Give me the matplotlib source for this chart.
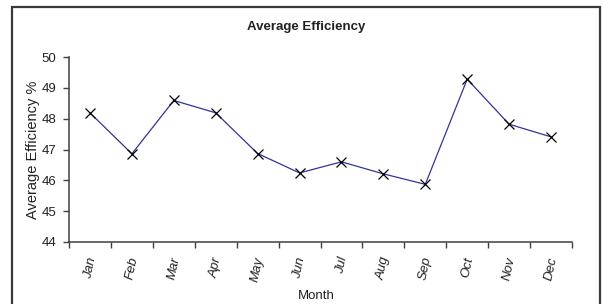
import matplotlib
matplotlib.use("Agg")
import matplotlib.pyplot as plt
from matplotlib.patches import Rectangle
import numpy as np

months = ["Jan", "Feb", "Mar", "Apr", "May", "Jun", "Jul", "Aug", "Sep", "Oct", "Nov", "Dec"]
efficiency = [48.19, 46.86, 48.59, 48.19, 46.87, 46.24, 46.60, 46.21, 45.87, 49.28, 47.82, 47.41]
yticks = [44, 45, 46, 47, 48, 49, 50]

plt.rcParams['font.family'] = ['Liberation Sans', 'DejaVu Sans']

W, H = 603, 304
fig = plt.figure(figsize=(W / 100, H / 100), dpi=100)

# outer chart border
border = Rectangle((12 / W, -0.05), (600 - 12) / W, 1.05 - 7 / H,
                   transform=fig.transFigure, fill=False, edgecolor='#3a3a3a',
                   linewidth=1.6, zorder=0)
fig.patches.append(border)

ax = fig.add_axes([69 / W, 1 - 242 / H, (572 - 69) / W, (242 - 57) / H])
x = np.arange(len(months))
ax.plot(x, efficiency, color='#333399', linewidth=0.9, marker='x',
        markersize=7, markeredgecolor='black', markeredgewidth=0.9, clip_on=False)

ax.set_xlim(-0.5, len(months) - 0.5)
ax.set_ylim(44, 50)
ax.set_yticks(yticks)
ax.set_yticklabels([str(v) for v in yticks], fontsize=9.5, color='#222222')
ax.set_xticks(x)
ax.set_xticklabels(months, rotation=78, fontsize=9.5, color='#222222', style='italic')
ax.tick_params(axis='x', which='major', length=0, pad=10)
ax.set_xticks(np.arange(-0.5, len(months), 1.0), minor=True)
ax.tick_params(axis='x', which='minor', length=4, width=1, color='#404040', direction='out')
ax.tick_params(axis='y', length=4, width=1, color='#404040', direction='out', pad=5)

for s in ['top', 'right']:
    ax.spines[s].set_visible(False)
for s in ['left', 'bottom']:
    ax.spines[s].set_color('#404040')
    ax.spines[s].set_linewidth(1.1)

fig.text(306 / W, 1 - 27 / H, "Average Efficiency", ha='center', va='center',
         fontsize=9.5, fontweight='bold', color='#222222')
fig.text(33 / W, 1 - 150 / H, "Average Efficiency %", ha='center', va='center',
         rotation=90, fontsize=10.5, color='#222222')
fig.text(316 / W, 1 - 296 / H, "Month", ha='center', va='center',
         fontsize=9.5, color='#222222')

fig.savefig("out.png", dpi=100)
